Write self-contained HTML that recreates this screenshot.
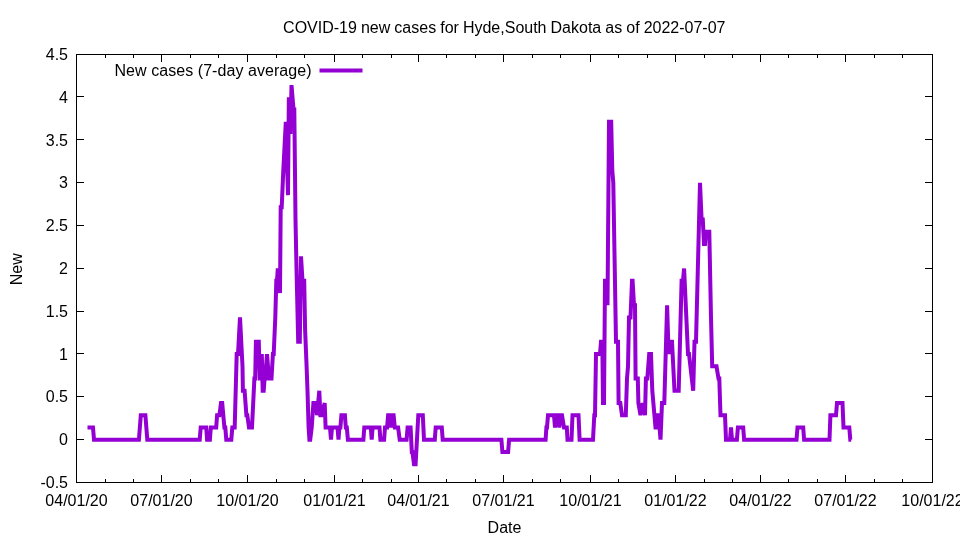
<!DOCTYPE html>
<html><head><meta charset="utf-8"><title>COVID-19 new cases for Hyde,South Dakota</title>
<style>html,body{margin:0;padding:0;background:#fff}svg{display:block}</style></head>
<body>
<svg width="960" height="540" viewBox="0 0 960 540">
<rect width="960" height="540" fill="#fff"/>
<g stroke="#000" stroke-width="1" fill="none" shape-rendering="crispEdges">
<rect x="76.5" y="54.5" width="856" height="428"/>
<path d="M76 439.5H84M925 439.5H933"/>
<path d="M76 396.5H84M925 396.5H933"/>
<path d="M76 353.5H84M925 353.5H933"/>
<path d="M76 311.5H84M925 311.5H933"/>
<path d="M76 268.5H84M925 268.5H933"/>
<path d="M76 225.5H84M925 225.5H933"/>
<path d="M76 182.5H84M925 182.5H933"/>
<path d="M76 139.5H84M925 139.5H933"/>
<path d="M76 96.5H84M925 96.5H933"/>
<path d="M161.5 475V483M161.5 54V62"/>
<path d="M247.5 475V483M247.5 54V62"/>
<path d="M334.5 475V483M334.5 54V62"/>
<path d="M418.5 475V483M418.5 54V62"/>
<path d="M503.5 475V483M503.5 54V62"/>
<path d="M590.5 475V483M590.5 54V62"/>
<path d="M675.5 475V483M675.5 54V62"/>
<path d="M760.5 475V483M760.5 54V62"/>
<path d="M845.5 475V483M845.5 54V62"/>
<path d="M105.5 479V483M105.5 54V58"/>
<path d="M133.5 479V483M133.5 54V58"/>
<path d="M190.5 479V483M190.5 54V58"/>
<path d="M218.5 479V483M218.5 54V58"/>
<path d="M276.5 479V483M276.5 54V58"/>
<path d="M304.5 479V483M304.5 54V58"/>
<path d="M362.5 479V483M362.5 54V58"/>
<path d="M391.5 479V483M391.5 54V58"/>
<path d="M446.5 479V483M446.5 54V58"/>
<path d="M475.5 479V483M475.5 54V58"/>
<path d="M532.5 479V483M532.5 54V58"/>
<path d="M560.5 479V483M560.5 54V58"/>
<path d="M618.5 479V483M618.5 54V58"/>
<path d="M647.5 479V483M647.5 54V58"/>
<path d="M704.5 479V483M704.5 54V58"/>
<path d="M732.5 479V483M732.5 54V58"/>
<path d="M788.5 479V483M788.5 54V58"/>
<path d="M817.5 479V483M817.5 54V58"/>
<path d="M874.5 479V483M874.5 54V58"/>
<path d="M902.5 479V483M902.5 54V58"/>
</g>
<g font-family="Liberation Sans, Arial, sans-serif" font-size="16px" fill="#000">
<text x="68" y="488.0" text-anchor="end">-0.5</text>
<text x="68" y="445.2" text-anchor="end">0</text>
<text x="68" y="402.4" text-anchor="end">0.5</text>
<text x="68" y="359.6" text-anchor="end">1</text>
<text x="68" y="316.8" text-anchor="end">1.5</text>
<text x="68" y="274.0" text-anchor="end">2</text>
<text x="68" y="231.2" text-anchor="end">2.5</text>
<text x="68" y="188.4" text-anchor="end">3</text>
<text x="68" y="145.6" text-anchor="end">3.5</text>
<text x="68" y="102.8" text-anchor="end">4</text>
<text x="68" y="60.0" text-anchor="end">4.5</text>
<text x="76.5" y="506" text-anchor="middle">04/01/20</text>
<text x="161.5" y="506" text-anchor="middle">07/01/20</text>
<text x="247.5" y="506" text-anchor="middle">10/01/20</text>
<text x="334.5" y="506" text-anchor="middle">01/01/21</text>
<text x="418.5" y="506" text-anchor="middle">04/01/21</text>
<text x="503.5" y="506" text-anchor="middle">07/01/21</text>
<text x="590.5" y="506" text-anchor="middle">10/01/21</text>
<text x="675.5" y="506" text-anchor="middle">01/01/22</text>
<text x="760.5" y="506" text-anchor="middle">04/01/22</text>
<text x="845.5" y="506" text-anchor="middle">07/01/22</text>
<text x="932.5" y="506" text-anchor="middle">10/01/22</text>
<text x="504.3" y="33" text-anchor="middle" word-spacing="-0.4">COVID-19 new cases for Hyde,South Dakota as of 2022-07-07</text>
<text x="504.5" y="533" text-anchor="middle">Date</text>
<text transform="translate(22,269.3) rotate(-90)" text-anchor="middle">New</text>
<text x="311.6" y="76" text-anchor="end" letter-spacing="0.06">New cases (7-day average)</text>
</g>
<path d="M319.5 70.5H362.5" stroke="#9400d3" stroke-width="4" fill="none"/>
<polyline points="87.50,427.47 93.00,427.47 94.00,439.70 138.90,439.70 140.80,415.24 145.40,415.24 147.30,439.70 199.70,439.70 200.70,427.47 206.20,427.47 207.10,439.70 209.90,439.70 210.80,427.47 216.20,427.47 217.10,415.24 219.40,415.24 221.00,403.01 222.20,403.01 224.40,427.47 225.30,427.47 226.30,439.70 231.30,439.70 232.30,427.47 234.70,427.47 236.70,354.10 238.00,354.10 240.00,317.41 242.50,366.33 242.90,390.79 244.60,390.79 246.40,415.24 247.30,415.24 249.00,427.47 252.00,427.47 254.40,378.56 255.20,378.56 255.90,341.87 258.80,341.87 259.70,378.56 260.40,378.56 261.80,354.10 262.70,390.79 263.70,390.79 264.60,378.56 265.10,378.56 267.00,354.10 269.00,378.56 271.50,378.56 272.90,354.10 273.70,354.10 275.30,317.41 276.30,280.73 277.00,280.73 277.80,268.50 280.00,292.96 280.70,207.36 281.70,207.36 283.30,170.67 285.80,121.76 288.00,195.13 288.85,97.30 290.40,133.99 291.50,85.07 293.50,109.53 294.30,109.53 295.50,219.59 296.50,268.50 298.20,341.87 299.80,341.87 301.00,256.27 302.50,280.73 304.20,280.73 305.10,329.64 306.60,366.33 307.50,390.79 308.60,427.47 309.40,439.70 310.20,439.70 311.70,427.47 313.40,403.01 316.20,403.01 317.00,415.24 319.30,390.79 320.40,415.24 321.40,415.24 324.70,403.01 325.60,427.47 330.00,427.47 331.00,439.70 332.00,427.47 337.50,427.47 338.50,439.70 339.40,427.47 340.40,427.47 341.40,415.24 344.90,415.24 345.80,427.47 346.80,427.47 347.90,439.70 363.40,439.70 364.30,427.47 370.80,427.47 371.70,439.70 372.60,427.47 379.50,427.47 380.40,439.70 384.10,439.70 385.00,427.47 387.10,427.47 388.10,415.24 390.00,415.24 391.00,427.47 392.00,415.24 393.60,415.24 394.80,427.47 398.10,427.47 399.70,439.70 406.60,439.70 407.60,427.47 410.60,427.47 411.80,451.93 412.40,451.93 414.00,464.16 415.60,464.16 418.30,415.24 422.80,415.24 424.00,439.70 434.80,439.70 435.70,427.47 441.80,427.47 442.70,439.70 501.40,439.70 502.40,451.93 508.10,451.93 509.10,439.70 545.60,439.70 546.40,427.47 547.00,427.47 548.00,415.24 554.00,415.24 555.00,427.47 556.00,415.24 558.30,415.24 559.30,427.47 560.30,415.24 562.00,415.24 564.00,427.47 566.80,427.47 567.50,439.70 571.50,439.70 572.50,415.24 578.50,415.24 579.60,439.70 593.00,439.70 594.30,415.24 595.00,415.24 596.00,354.10 600.00,354.10 601.00,341.87 602.30,341.87 603.00,403.01 604.00,403.01 605.00,280.73 606.20,280.73 607.50,305.19 609.00,121.76 611.20,121.76 612.30,170.67 613.30,182.90 616.00,341.87 618.00,341.87 618.60,403.01 620.30,403.01 622.00,415.24 625.80,415.24 627.00,378.56 628.00,366.33 629.00,317.41 630.50,317.41 632.00,280.73 632.60,280.73 634.00,305.19 635.00,305.19 635.60,378.56 637.80,378.56 638.40,403.01 640.50,415.24 642.70,403.01 645.00,415.24 645.90,378.56 647.30,378.56 649.20,354.10 651.00,354.10 652.30,390.79 655.50,427.47 656.50,427.47 657.40,415.24 658.60,415.24 660.50,439.70 662.00,403.01 664.30,403.01 667.10,305.19 668.60,354.10 669.80,341.87 672.00,341.87 674.50,390.79 678.70,390.79 681.60,280.73 683.00,280.73 684.10,268.50 688.00,354.10 689.00,354.10 693.20,390.79 694.50,341.87 696.00,341.87 700.00,182.90 701.60,219.59 702.80,219.59 704.00,244.04 705.00,244.04 706.00,231.81 709.30,231.81 711.00,317.41 712.20,366.33 716.50,366.33 718.50,378.56 719.30,378.56 720.50,415.24 725.00,415.24 726.00,439.70 730.00,439.70 731.00,427.47 732.00,439.70 736.90,439.70 737.90,427.47 743.20,427.47 744.10,439.70 796.50,439.70 797.50,427.47 803.20,427.47 804.10,439.70 829.50,439.70 830.40,415.24 836.00,415.24 837.00,403.01 842.50,403.01 843.50,427.47 849.30,427.47 850.30,439.70 851.20,439.70" fill="none" stroke="#9400d3" stroke-width="4" stroke-linejoin="miter" stroke-miterlimit="3" stroke-linecap="butt"/>
</svg>
</body></html>
